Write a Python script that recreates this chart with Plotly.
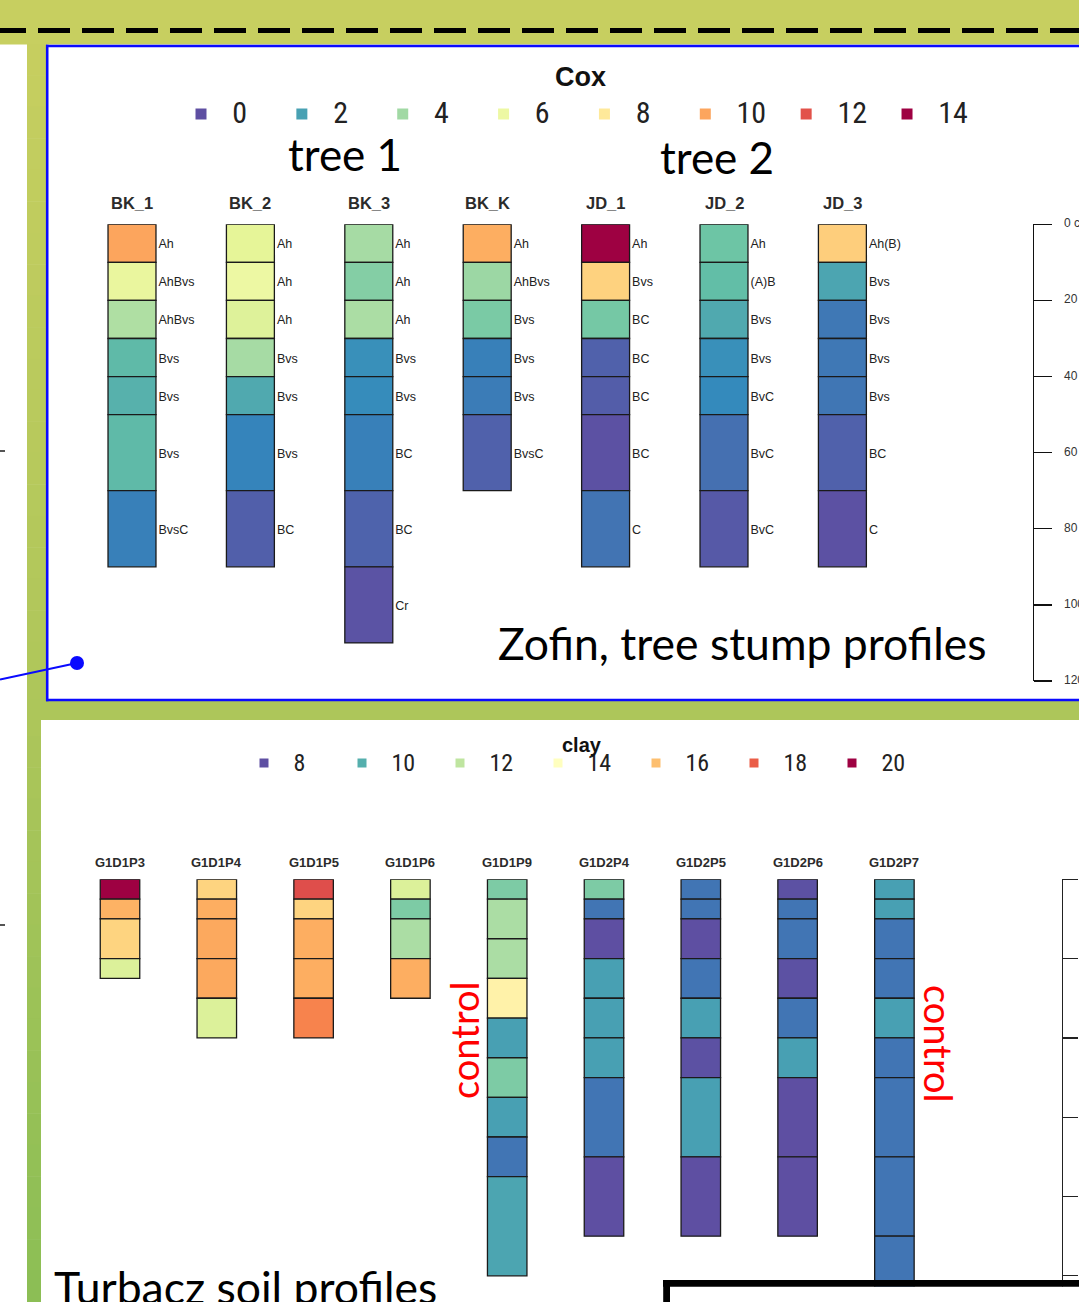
import plotly.graph_objects as go

W, H = 1079, 1302

# ---------------- Zofin, tree stump profiles (Cox) ----------------
cox_profiles = ["BK_1", "BK_2", "BK_3", "BK_K", "JD_1", "JD_2", "JD_3"]

bk1_depth = [0, 10, 20, 30, 40, 50, 70, 90]
bk1_hz = ["Ah", "AhBvs", "AhBvs", "Bvs", "Bvs", "Bvs", "BvsC"]
bk1_cox = [10.0, 5.8, 4.3, 2.6, 2.4, 2.6, 1.2]

bk2_depth = [0, 10, 20, 30, 40, 50, 70, 90]
bk2_hz = ["Ah", "Ah", "Ah", "Bvs", "Bvs", "Bvs", "BC"]
bk2_cox = [5.6, 6.0, 5.4, 4.1, 2.2, 1.3, 0.4]

bk3_depth = [0, 10, 20, 30, 40, 50, 70, 90, 110]
bk3_hz = ["Ah", "Ah", "Ah", "Bvs", "Bvs", "BC", "BC", "Cr"]
bk3_cox = [4.1, 3.4, 4.2, 1.6, 1.5, 1.2, 0.5, 0.1]

bkk_depth = [0, 10, 20, 30, 40, 50, 70]
bkk_hz = ["Ah", "AhBvs", "Bvs", "Bvs", "Bvs", "BvsC"]
bkk_cox = [9.8, 3.9, 3.2, 1.2, 1.1, 0.45]

jd1_depth = [0, 10, 20, 30, 40, 50, 70, 90]
jd1_hz = ["Ah", "Bvs", "BC", "BC", "BC", "BC", "C"]
jd1_cox = [14.0, 8.8, 3.1, 0.45, 0.35, 0.05, 0.9]

jd2_depth = [0, 10, 20, 30, 40, 50, 70, 90]
jd2_hz = ["Ah", "(A)B", "Bvs", "Bvs", "BvC", "BvC", "BvC"]
jd2_cox = [2.95, 2.7, 2.2, 1.6, 1.45, 0.8, 0.25]

jd3_depth = [0, 10, 20, 30, 40, 50, 70, 90]
jd3_hz = ["Ah(B)", "Bvs", "Bvs", "Bvs", "Bvs", "BC", "C"]
jd3_cox = [8.9, 2.1, 1.0, 1.0, 0.95, 0.45, 0.05]

cox_depths = [bk1_depth, bk2_depth, bk3_depth, bkk_depth, jd1_depth, jd2_depth, jd3_depth]
cox_hzs = [bk1_hz, bk2_hz, bk3_hz, bkk_hz, jd1_hz, jd2_hz, jd3_hz]
cox_vals = [bk1_cox, bk2_cox, bk3_cox, bkk_cox, jd1_cox, jd2_cox, jd3_cox]

cox_legend = [0, 2, 4, 6, 8, 10, 12, 14]
cox_axis_ticks = [0, 20, 40, 60, 80, 100, 120]
cox_axis_labels = ["0 cm", "20", "40", "60", "80", "100", "120"]

# ---------------- Turbacz soil profiles (clay) ----------------
clay_profiles = ["G1D1P3", "G1D1P4", "G1D1P5", "G1D1P6", "G1D1P9",
                 "G1D2P4", "G1D2P5", "G1D2P6", "G1D2P7"]

g1d1p3_depth = [0, 5, 10, 20, 25]
g1d1p3_clay = [20.0, 16.3, 15.5, 12.6]
g1d1p4_depth = [0, 5, 10, 20, 30, 40]
g1d1p4_clay = [15.5, 16.4, 16.5, 16.5, 12.6]
g1d1p5_depth = [0, 5, 10, 20, 30, 40]
g1d1p5_clay = [18.4, 15.5, 16.4, 16.4, 17.2]
g1d1p6_depth = [0, 5, 10, 20, 30]
g1d1p6_clay = [12.6, 10.8, 11.6, 16.4]
g1d1p9_depth = [0, 5, 15, 25, 35, 45, 55, 65, 75, 100]
g1d1p9_clay = [10.8, 11.6, 11.6, 14.5, 9.7, 10.8, 9.7, 8.8, 9.8]
g1d2p4_depth = [0, 5, 10, 20, 30, 40, 50, 70, 90]
g1d2p4_clay = [10.8, 8.8, 8.0, 9.7, 9.7, 9.7, 8.8, 8.0]
g1d2p5_depth = [0, 5, 10, 20, 30, 40, 50, 70, 90]
g1d2p5_clay = [8.8, 8.8, 8.0, 8.8, 9.7, 8.05, 9.7, 8.0]
g1d2p6_depth = [0, 5, 10, 20, 30, 40, 50, 70, 90]
g1d2p6_clay = [8.05, 8.8, 8.8, 8.05, 8.8, 9.7, 8.0, 8.0]
g1d2p7_depth = [0, 5, 10, 20, 30, 40, 50, 70, 90, 110]
g1d2p7_clay = [9.7, 9.7, 8.8, 8.8, 9.7, 8.8, 8.8, 8.8, 8.8]

clay_depths = [g1d1p3_depth, g1d1p4_depth, g1d1p5_depth, g1d1p6_depth, g1d1p9_depth,
               g1d2p4_depth, g1d2p5_depth, g1d2p6_depth, g1d2p7_depth]
clay_vals = [g1d1p3_clay, g1d1p4_clay, g1d1p5_clay, g1d1p6_clay, g1d1p9_clay,
             g1d2p4_clay, g1d2p5_clay, g1d2p6_clay, g1d2p7_clay]

clay_legend = [8, 10, 12, 14, 16, 18, 20]
clay_axis_ticks = [0, 20, 40, 60, 80, 100]

# ---------------- styling helpers ----------------
ARIAL = "Arial, Liberation Sans, sans-serif"
NARROW = "Liberation Sans Narrow, Arial Narrow, Roboto Condensed, Liberation Sans, sans-serif"
CALIB = "Lato, Carlito, Calibri, sans-serif"
CSCALE = "Spectral_r"

# pixel geometry of the two profile panels
TOP_X0, TOP_STEP = 132.0, 118.4        # px centre of first profile, px between profiles
TOP_Y0, TOP_SCALE = 224.3, 3.806       # px of depth 0, px per cm
BOT_X0, BOT_STEP = 120.0, 96.8
BOT_Y0, BOT_SCALE = 879.3, 3.965


def fx(px):
    return px / W


def fy(py):
    return 1 - py / H


fig = go.Figure()

# top panel bars
BW1 = 0.405
for i, (d, hz, v) in enumerate(zip(cox_depths, cox_hzs, cox_vals)):
    tops = d[:-1]
    thick = [b - t for t, b in zip(d[:-1], d[1:])]
    mids = [(t + b) / 2 for t, b in zip(d[:-1], d[1:])]
    fig.add_trace(go.Bar(
        x=[i] * len(tops), y=thick, base=tops, width=BW1,
        marker=dict(color=v, colorscale=CSCALE, cmin=0, cmax=14,
                    line=dict(color="#1a1a1a", width=1.3)),
        xaxis="x", yaxis="y", showlegend=False, hoverinfo="skip"))
    fig.add_trace(go.Scatter(
        x=[i + BW1 / 2 + 2.5 / TOP_STEP] * len(mids), y=[m + 0.5 for m in mids],
        text=hz, mode="text", textposition="middle right",
        textfont=dict(size=12.5, color="#222", family=ARIAL),
        xaxis="x", yaxis="y", showlegend=False, hoverinfo="skip"))

# bottom panel bars
BW2 = 0.408
for i, (d, v) in enumerate(zip(clay_depths, clay_vals)):
    tops = d[:-1]
    thick = [b - t for t, b in zip(d[:-1], d[1:])]
    fig.add_trace(go.Bar(
        x=[i] * len(tops), y=thick, base=tops, width=BW2,
        marker=dict(color=v, colorscale=CSCALE, cmin=8, cmax=20,
                    line=dict(color="#1a1a1a", width=1.3)),
        xaxis="x2", yaxis="y2", showlegend=False, hoverinfo="skip"))

# panel caption of lower panel, clipped by the page bottom like in the poster
fig.add_trace(go.Scatter(
    x=[(54 - BOT_X0) / BOT_STEP], y=[(1293 - BOT_Y0) / BOT_SCALE],
    text=["Turbacz soil profiles"], mode="text", textposition="middle right",
    textfont=dict(size=44.5, family=CALIB, color="#000"),
    xaxis="x2", yaxis="y2", cliponaxis=True, showlegend=False, hoverinfo="skip"))

# depth labels of the upper axis (clipped by the right page edge)
fig.add_trace(go.Scatter(
    x=[1064] * len(cox_axis_ticks), y=cox_axis_ticks, text=cox_axis_labels,
    mode="text", textposition="middle right",
    textfont=dict(size=12, family=ARIAL, color="#333"),
    xaxis="x5", yaxis="y5", cliponaxis=True, showlegend=False, hoverinfo="skip"))

# legends as value-colored markers
fig.add_trace(go.Scatter(
    x=cox_legend, y=[0.5] * len(cox_legend), mode="markers",
    marker=dict(symbol="square", size=11, color=cox_legend, colorscale=CSCALE,
                cmin=0, cmax=14, line=dict(width=0)),
    xaxis="x3", yaxis="y3", cliponaxis=False, showlegend=False, hoverinfo="skip"))
fig.add_trace(go.Scatter(
    x=[v + 0.62 for v in cox_legend], y=[0.44] * len(cox_legend), mode="text",
    text=[str(v) for v in cox_legend], textposition="middle right",
    textfont=dict(size=30, color="#222", family=NARROW),
    xaxis="x3", yaxis="y3", cliponaxis=False, showlegend=False, hoverinfo="skip"))

fig.add_trace(go.Scatter(
    x=clay_legend, y=[0.5] * len(clay_legend), mode="markers",
    marker=dict(symbol="square", size=9, color=clay_legend, colorscale=CSCALE,
                cmin=8, cmax=20, line=dict(width=0)),
    xaxis="x4", yaxis="y4", cliponaxis=False, showlegend=False, hoverinfo="skip"))
fig.add_trace(go.Scatter(
    x=[v + 0.6 for v in clay_legend], y=[0.44] * len(clay_legend), mode="text",
    text=[str(v) for v in clay_legend], textposition="middle right",
    textfont=dict(size=24, color="#222", family=NARROW),
    xaxis="x4", yaxis="y4", cliponaxis=False, showlegend=False, hoverinfo="skip"))

# ---------------- background shapes (all kept inside the page) ----------------
shapes = []


def rect(x0, y0, x1, y1, fill, layer="below"):
    shapes.append(dict(type="rect", xref="paper", yref="paper",
                       x0=fx(x0), x1=fx(x1), y0=fy(y0), y1=fy(y1),
                       fillcolor=fill, layer=layer, line=dict(width=0)))


def line(x0, y0, x1, y1, color, width, dash="solid", layer="above"):
    shapes.append(dict(type="line", xref="paper", yref="paper",
                       x0=fx(x0), x1=fx(x1), y0=fy(y0), y1=fy(y1), layer=layer,
                       line=dict(color=color, width=width, dash=dash)))


def green(py):
    stops = [(0, (200, 207, 96)), (700, (174, 198, 90)), (1302, (139, 190, 85))]
    for (a, ca), (b, cb) in zip(stops[:-1], stops[1:]):
        if py <= b:
            t = (py - a) / (b - a)
            c = [round(ca[k] + (cb[k] - ca[k]) * t) for k in range(3)]
            return "rgb(%d,%d,%d)" % tuple(c)
    return "rgb(139,190,85)"


rect(0, 0, W, 44.5, green(20))
n_seg = 40
for k in range(n_seg):
    y0 = 44 + k * (H - 44) / n_seg
    y1 = min(H, 44 + (k + 1) * (H - 44) / n_seg + 0.5)
    rect(27, y0, 46.5, y1, green((y0 + y1) / 2))
rect(27, 699, W, 720, green(710))
rect(41, 720, W, H, "white")

# dashed black rule in the top band
line(0, 30.5, 26, 30.5, "black", 5)
line(38, 30.5, W, 30.5, "black", 5, dash="32px,12px")
# blue frame of upper panel
BLUE = "#0a0aff"
line(46, 46, W, 46, BLUE, 2.6)
line(47.2, 44.8, 47.2, 701.2, BLUE, 2.6)
line(46, 700, W, 700, BLUE, 2.6)
# connector line and dot
line(0, 679.5, 77, 663, BLUE, 2.2)
shapes.append(dict(type="circle", xref="paper", yref="paper", x0=fx(70), x1=fx(84),
                   y0=fy(656), y1=fy(670), fillcolor=BLUE, line=dict(width=0),
                   layer="above"))
for ty in (451, 925):
    line(0, ty, 5, ty, "#555", 2)
# black frame at bottom right
shapes.append(dict(type="rect", xref="paper", yref="paper", x0=fx(670), x1=fx(W),
                   y0=fy(1286.5), y1=fy(H), fillcolor="white", line=dict(width=0),
                   layer="above"))
line(663, 1283.3, W, 1283.3, "black", 6.8)
line(666.6, 1280, 666.6, H, "black", 6.8)

fig.update_layout(shapes=shapes)

# ---------------- annotations ----------------
ann = []


def text(x, y, s, size, family, color="#111", bold=False, xanchor="center",
         yanchor="middle", angle=0, xref="paper"):
    ann.append(dict(x=x if xref != "paper" else fx(x), y=fy(y), xref=xref, yref="paper",
                    text="<b>%s</b>" % s if bold else s, showarrow=False,
                    font=dict(size=size, family=family, color=color),
                    xanchor=xanchor, yanchor=yanchor, textangle=angle))


for i, name in enumerate(cox_profiles):
    text(i, 203, name, 16.5, ARIAL, "#2b2b2b", bold=True, xref="x")
for i, name in enumerate(clay_profiles):
    text(i, 862, name, 13, ARIAL, "#2b2b2b", bold=True, xref="x2")

text(580, 77, "Cox", 27, ARIAL, "#111", bold=True)
text(582, 745, "clay", 20, ARIAL, "#111", bold=True)
text(286, 154, "tree 1", 44, CALIB, "#000", xanchor="left")
text(658, 157, "tree 2", 44, CALIB, "#000", xanchor="left")
text(496, 642, "Zofin, tree stump profiles", 44.5, CALIB, "#000", xanchor="left")
text(464, 1041, "control", 38, CALIB, "#ff0000", angle=-90)
text(939, 1043, "control", 38, CALIB, "#ff0000", angle=90)

fig.update_layout(annotations=ann)

# ---------------- axes ----------------
top_bottom_px = 681.0
fig.update_layout(
    width=W, height=H, margin=dict(l=0, r=0, t=0, b=0, autoexpand=False),
    paper_bgcolor="white", plot_bgcolor="rgba(0,0,0,0)",
    barmode="overlay", hovermode=False, showlegend=False,
    xaxis=dict(domain=[0, 1], range=[-TOP_X0 / TOP_STEP, (W - TOP_X0) / TOP_STEP],
               visible=False, anchor="y"),
    yaxis=dict(domain=[fy(top_bottom_px), fy(TOP_Y0)],
               range=[(top_bottom_px - TOP_Y0) / TOP_SCALE, 0], anchor="free",
               position=fx(1033), side="right", showline=True, linecolor="#111",
               linewidth=1.3, ticks="outside", ticklen=18, tickcolor="#111", tickwidth=1.3,
               tickvals=cox_axis_ticks, showticklabels=False,
               showgrid=False, zeroline=False),
    xaxis2=dict(domain=[0, 1], range=[-BOT_X0 / BOT_STEP, (W - BOT_X0) / BOT_STEP],
                visible=False, anchor="y2"),
    yaxis2=dict(domain=[0, fy(BOT_Y0)], range=[(H - BOT_Y0) / BOT_SCALE, 0], anchor="free",
                position=fx(1062), side="right", showline=True, linecolor="#222",
                linewidth=1.3, ticks="outside", ticklen=15, tickcolor="#222", tickwidth=1.3,
                tickvals=clay_axis_ticks, showticklabels=False,
                showgrid=False, zeroline=False),
    xaxis3=dict(domain=[0, 1], range=[-201 / 50.43, (W - 201) / 50.43],
                visible=False, anchor="y3"),
    yaxis3=dict(domain=[fy(127), fy(101)], range=[0, 1], visible=False, anchor="x3"),
    xaxis4=dict(domain=[0, 1], range=[8 - 264 / 49.0, 8 + (W - 264) / 49.0],
                visible=False, anchor="y4"),
    yaxis4=dict(domain=[fy(776), fy(750)], range=[0, 1], visible=False, anchor="x4"),
    xaxis5=dict(domain=[fx(1055), 1], range=[1055, W], visible=False, anchor="y5"),
    yaxis5=dict(domain=[fy(700), fy(205)],
                range=[(700 - TOP_Y0) / TOP_SCALE, (205 - TOP_Y0) / TOP_SCALE],
                visible=False, anchor="x5"),
)

fig.write_html(
    "out.html",
    config={"displayModeBar": False, "staticPlot": True},
    post_script="document.body.style.margin='0';"
                "var g=document.getElementById('{plot_id}');g.style.overflow='hidden';",
)
